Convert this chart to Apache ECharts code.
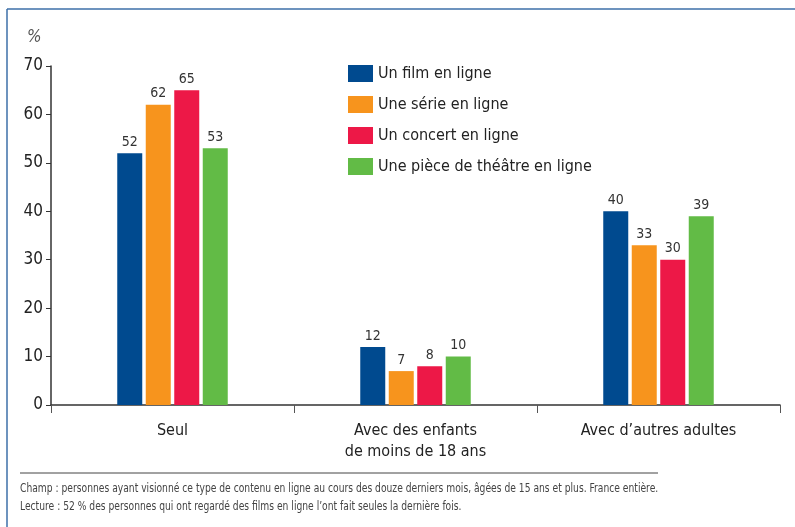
<!DOCTYPE html>
<html>
<head>
<meta charset="utf-8">
<script src="https://cdn.jsdelivr.net/npm/echarts@6/dist/echarts.min.js"></script>
<style>
    html, body { margin: 0; padding: 0; background: #fff; }
    #chart { width: 795px; height: 527px; }
</style>
</head>
<body>
<div id="chart"></div>
<script>
    // data
    var categories = ['Seul', 'Avec des enfants\nde moins de 18 ans', 'Avec d\u2019autres adultes'];
    var seriesNames = ['Un film en ligne', 'Une série en ligne', 'Un concert en ligne', 'Une pièce de théâtre en ligne'];
    var filmValues = [52, 12, 40];
    var serieValues = [62, 7, 33];
    var concertValues = [65, 8, 30];
    var theatreValues = [53, 10, 39];
    var colors = ['#004a8f', '#f7941d', '#ed1847', '#62bb46'];

    var font = '"DejaVu Sans Condensed", "Liberation Sans Narrow", sans-serif';
    var allValues = [filmValues, serieValues, concertValues, theatreValues];

    var series = seriesNames.map(function (name, i) {
        return {
            name: name,
            type: 'bar',
            barWidth: 25,
            barGap: '14%',
            data: allValues[i],
            itemStyle: { color: colors[i] },
            label: {
                show: true,
                position: 'top',
                distance: 4,
                color: '#333',
                fontSize: 14,
                fontFamily: font
            }
        };
    });

    var chart = echarts.init(document.getElementById('chart'));
    var option = {
        animation: false,
        textStyle: { fontFamily: font },
        grid: { left: 51, right: 15, top: 66, bottom: 122 },
        legend: {
            orient: 'vertical',
            left: 343,
            top: 60,
            itemWidth: 25,
            itemHeight: 17,
            itemGap: 14,
            icon: 'rect',
            textStyle: { color: '#222', fontSize: 16, fontFamily: font },
            data: seriesNames
        },
        xAxis: {
            type: 'category',
            data: categories,
            axisLine: { lineStyle: { color: '#333', width: 1.5 } },
            axisTick: { show: true, length: 8, lineStyle: { color: '#555' } },
            axisLabel: {
                color: '#222',
                fontSize: 16,
                margin: 15,
                lineHeight: 21,
                fontFamily: font
            }
        },
        yAxis: {
            type: 'value',
            min: 0,
            max: 70,
            interval: 10,
            axisLine: { show: true, lineStyle: { color: '#333', width: 1.5 } },
            axisTick: { show: true, length: 5, lineStyle: { color: '#333' } },
            splitLine: { show: false },
            axisLabel: { color: '#222', fontSize: 17, margin: 8, fontFamily: font }
        },
        graphic: [
            { type: 'line', shape: { x1: 7, y1: 9, x2: 795, y2: 9 }, style: { stroke: '#3d6fa8', lineWidth: 1.5 } },
            { type: 'line', shape: { x1: 7, y1: 9, x2: 7, y2: 527 }, style: { stroke: '#3d6fa8', lineWidth: 1.5 } },
            { type: 'text', x: 27, y: 29, style: { text: '%', fill: '#555', font: 'italic 17px ' + font } },
            { type: 'line', shape: { x1: 20, y1: 473, x2: 658, y2: 473 }, style: { stroke: '#444', lineWidth: 1 } },
            { type: 'text', x: 20, y: 483, scaleX: 0.85, style: { text: 'Champ : personnes ayant visionné ce type de contenu en ligne au cours des douze derniers mois, âgées de 15 ans et plus. France entière.', fill: '#444', font: '12px ' + font } },
            { type: 'text', x: 20, y: 501, scaleX: 0.85, style: { text: 'Lecture : 52 % des personnes qui ont regardé des films en ligne l\u2019ont fait seules la dernière fois.', fill: '#444', font: '12px ' + font } }
        ],
        series: series
    };
    chart.setOption(option);
</script>
</body>
</html>
